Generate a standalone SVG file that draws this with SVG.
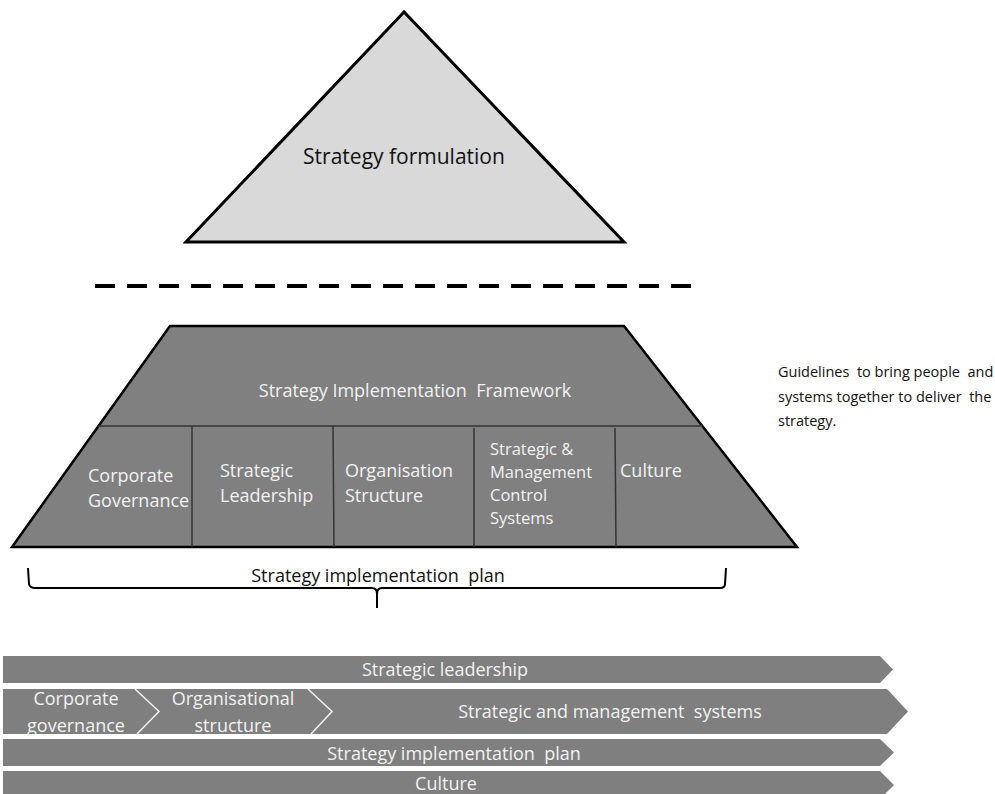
<svg xmlns="http://www.w3.org/2000/svg" width="995" height="794" viewBox="0 0 995 794">
<style>
text{font-family:"Open Sans","Liberation Sans",sans-serif;white-space:pre;}
.w{fill:#f2f2f2;font-size:18px;}
.s{font-size:16.5px;}
.k{fill:#111;font-size:18px;}
.g{fill:#111;font-size:14.5px;}
.bar{fill:#7f7f7f;}
.div{stroke:#333;stroke-width:1.5;fill:none;}
</style>
<rect width="995" height="794" fill="#fff"/>
<g id="formulation">
<polygon points="404,12 186,242 624,242" fill="#d9d9d9" stroke="#000" stroke-width="3" stroke-linejoin="miter"/>
<text x="404" y="164" text-anchor="middle" class="k" style="font-size:21px">Strategy formulation</text>
</g>
<g id="separator">
<line x1="95" y1="286" x2="697" y2="286" stroke="#000" stroke-width="4" stroke-dasharray="20,12"/>
</g>
<g id="framework">
<polygon points="170,326 624,326 797,547 12,547" fill="#808080" stroke="#000" stroke-width="2.5"/>
<line class="div" x1="97" y1="426" x2="702" y2="426"/>
<line class="div" x1="192" y1="426" x2="192" y2="547"/>
<line class="div" x1="333" y1="426" x2="334" y2="547"/>
<line class="div" x1="474" y1="428" x2="474" y2="547"/>
<line class="div" x1="615" y1="428" x2="616" y2="547"/>
<text x="415" y="397" text-anchor="middle" class="w">Strategy Implementation  Framework</text>
<text class="w" x="88" y="482">Corporate</text>
<text class="w" x="88" y="507">Governance</text>
<text class="w" x="220" y="477">Strategic</text>
<text class="w" x="220" y="502">Leadership</text>
<text class="w" x="345" y="477">Organisation</text>
<text class="w" x="345" y="502">Structure</text>
<text class="w s" x="490" y="455">Strategic &amp;</text>
<text class="w s" x="490" y="478">Management</text>
<text class="w s" x="490" y="501">Control</text>
<text class="w s" x="490" y="524">Systems</text>
<text class="w" x="620" y="477">Culture</text>
</g>
<g id="guidelines">
<text class="g" x="778" y="377">Guidelines  to bring people  and</text>
<text class="g" x="778" y="402">systems together to deliver  the</text>
<text class="g" x="778" y="426">strategy.</text>
</g>
<g id="plan-brace">
<path d="M28,568 L29,584 Q30,588 35,588 L372,588 Q377,588 377,594 L377,608 M377,594 Q377,588 382,588 L720,588 Q725,588 725,584 L726,568" fill="none" stroke="#000" stroke-width="2"/>
<text class="k" x="378" y="582" text-anchor="middle">Strategy implementation  plan</text>
</g>
<g id="row-leadership">
<polygon class="bar" points="3,656 880,656 893,669.5 880,683 3,683"/>
<text class="w" x="445" y="676" text-anchor="middle">Strategic leadership</text>
</g>
<g id="row-systems">
<polygon class="bar" points="3,689 887,689 908,711.5 887,734 3,734"/>
<polyline points="135,689 159,711.5 137,734" fill="none" stroke="#f2f2f2" stroke-width="1.5"/>
<polyline points="308,689 332,711.5 311,734" fill="none" stroke="#f2f2f2" stroke-width="1.5"/>
<text class="w" x="76" y="705" text-anchor="middle">Corporate</text>
<text class="w" x="76" y="732" text-anchor="middle">governance</text>
<text class="w" x="233" y="705" text-anchor="middle">Organisational</text>
<text class="w" x="233" y="732" text-anchor="middle">structure</text>
<text class="w" x="610" y="718" text-anchor="middle">Strategic and management  systems</text>
</g>
<g id="row-plan">
<polygon class="bar" points="3,739 880,739 894,752.5 880,766 3,766"/>
<text class="w" x="454" y="760" text-anchor="middle">Strategy implementation  plan</text>
</g>
<g id="row-culture">
<polygon class="bar" points="3,771 880,771 894,785 880,799 3,799"/>
<text class="w" x="446" y="790" text-anchor="middle">Culture</text>
</g>
</svg>
